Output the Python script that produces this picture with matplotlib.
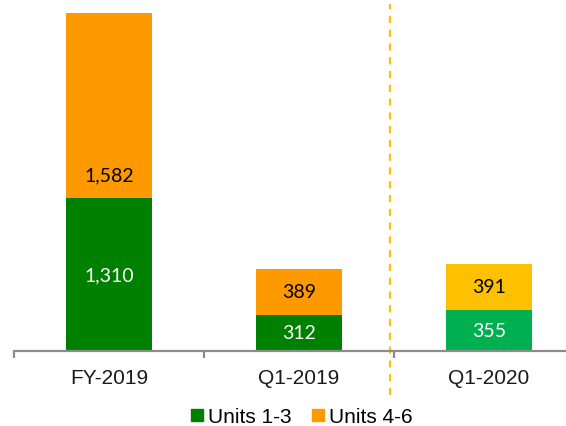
import matplotlib
matplotlib.use("Agg")
import matplotlib.pyplot as plt
from matplotlib.patches import Patch
import numpy as np

categories = ["FY-2019", "Q1-2019", "Q1-2020"]
units_1_3 = [1310, 312, 355]
units_4_6 = [1582, 389, 391]

# colours per bar (the last period is shown in lighter shades)
col_low = ["#008000", "#008000", "#00B050"]
col_high = ["#FF9900", "#FF9900", "#FFC000"]
# where the upper label sits inside its segment (0 = bottom, 1 = top)
high_label_pos = [0.124, 0.5, 0.5]

fig = plt.figure(figsize=(5.66, 4.27), dpi=100)
ax = fig.add_axes([14 / 566, 75 / 427, 1 - 14 / 566, 352 / 427])

x = np.arange(len(categories))
w = 0.45
ax.bar(x, units_1_3, w, color=col_low, zorder=2)
ax.bar(x, units_4_6, w, bottom=units_1_3, color=col_high, zorder=2)

lab_font = dict(family=["Lato", "DejaVu Sans"], fontsize=14, ha="center", va="center")
for i in range(len(categories)):
    ax.text(x[i], units_1_3[i] / 2, f"{units_1_3[i]:,}", color="white", **lab_font)
    ax.text(x[i], units_1_3[i] + units_4_6[i] * high_label_pos[i],
            f"{units_4_6[i]:,}", color="black", **lab_font)

for s in ["top", "right", "left"]:
    ax.spines[s].set_visible(False)
ax.spines["bottom"].set_color("#8c8c8c")
ax.spines["bottom"].set_linewidth(1.6)
ax.set_yticks([])
ax.set_xticks([-0.5, 0.5, 1.5, 2.5])
ax.set_xticklabels([])
ax.set_xticks(x, minor=True)
ax.set_xticklabels(categories, minor=True, family=["Liberation Sans", "DejaVu Sans"],
                   fontsize=15, color="#1a1a1a")
ax.tick_params(axis="x", which="major", length=5, width=1.6, color="#8c8c8c")
ax.tick_params(axis="x", which="minor", length=0, pad=12)
ax.set_xlim(-0.5, 2.405)
ax.set_ylim(0, 3012)

ax.axvline(1.48, ymin=-0.125, ymax=0.986, color="#FFC000", lw=1.6,
           dashes=(3.2, 3.0), clip_on=False, zorder=1)

handles = [Patch(color="#008000", label="Units 1-3"),
           Patch(color="#FF9900", label="Units 4-6")]
fig.legend(handles=handles, loc="center", bbox_to_anchor=(302 / 566, 1 - 418 / 427),
           ncol=2, frameon=False, handlelength=0.55, handleheight=0.55,
           handletextpad=0.25, columnspacing=1.0,
           prop=dict(family=["Liberation Sans", "DejaVu Sans"], size=15))

fig.savefig("out.png", dpi=100)
